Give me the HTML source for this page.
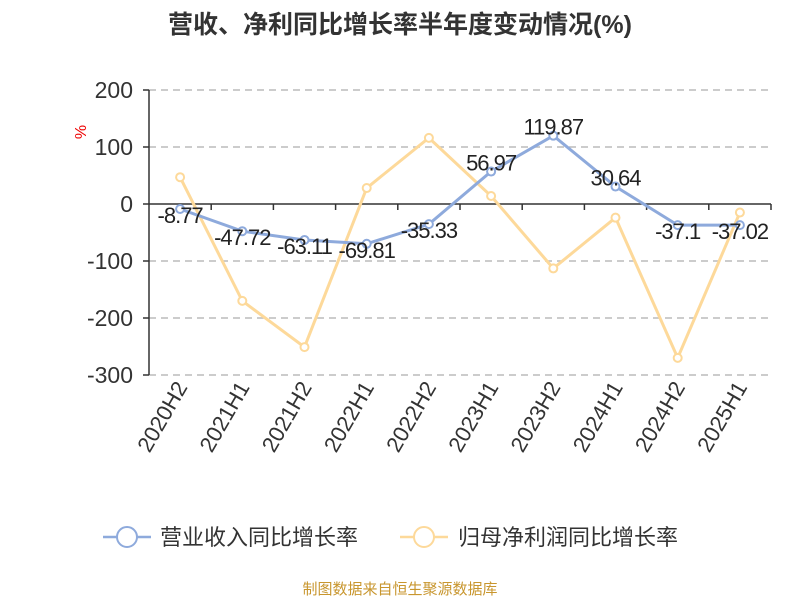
<!DOCTYPE html>
<html><head><meta charset="utf-8"><style>
body{margin:0;background:#fff;}
svg{display:block;font-family:"Liberation Sans","Noto Sans CJK SC",sans-serif;}
</style></head><body>
<svg id="c" width="800" height="600">
<text x="400" y="33" text-anchor="middle" font-size="25" font-weight="bold" fill="#333">营收、净利同比增长率半年度变动情况(%)</text>
<text x="86" y="132" font-size="16" fill="#e00" transform="rotate(-90 86 132)" text-anchor="middle">%</text>
<g id="grid"></g><g id="axes"></g><g id="series"></g>
<g>
<g>
<line x1="103" y1="537" x2="151" y2="537" stroke="#8eaadc" stroke-width="2.5"/>
<circle cx="127" cy="537" r="10" fill="#fff" stroke="#8eaadc" stroke-width="2"/>
<text x="160" y="545" font-size="22" fill="#333">营业收入同比增长率</text></g>
<g>
<line x1="400" y1="537" x2="448" y2="537" stroke="#fdd99a" stroke-width="2.5"/>
<circle cx="424" cy="537" r="10" fill="#fff" stroke="#fdd99a" stroke-width="2"/>
<text x="458" y="545" font-size="22" fill="#333">归母净利润同比增长率</text></g>
</g>
<text x="400" y="594" text-anchor="middle" font-size="15" fill="#c8962e">制图数据来自恒生聚源数据库</text>
</svg>
<script>
const categories=["2020H2","2021H1","2021H2","2022H1","2022H2","2023H1","2023H2","2024H1","2024H2","2025H1"];
const revenue=[-8.77,-47.72,-63.11,-69.81,-35.33,56.97,119.87,30.64,-37.1,-37.02];
const revenueLabels=["-8.77","-47.72","-63.11","-69.81","-35.33","56.97","119.87","30.64","-37.1","-37.02"];
const profit=[47,-170,-251,28,116,14,-113,-24,-270,-15];
const yTicks=[200,100,0,-100,-200,-300];
const NS="http://www.w3.org/2000/svg";
const x0=149,bw=62.2,yTop=90,yBot=375;
const X=i=>x0+bw*(i+0.5);
const Y=v=>yTop+(200-v)/500*(yBot-yTop);
function mk(t,a,p){const e=document.createElementNS(NS,t);for(const k in a)e.setAttribute(k,a[k]);p.appendChild(e);return e;}
const grid=document.getElementById('grid'),axes=document.getElementById('axes'),ser=document.getElementById('series');
yTicks.forEach(v=>{
 if(v!==0){const g=mk('line',{x1:x0,x2:771,y1:Y(v),y2:Y(v),stroke:'#bbb','stroke-dasharray':'7,5','stroke-width':1.5},grid);
 
 }
 const tk=mk('line',{x1:x0-6,x2:x0,y1:Y(v),y2:Y(v),stroke:'#333','stroke-width':1.5},axes);
 
 
 const t=mk('text',{x:x0-16,y:Y(v)+8,'text-anchor':'end','font-size':23,fill:'#333'},axes);t.textContent=v;
 
 
});
const ya=mk('line',{x1:x0,x2:x0,y1:yTop,y2:yBot,stroke:'#333','stroke-width':1.5},axes);


const xa=mk('line',{x1:x0,x2:771,y1:Y(0),y2:Y(0),stroke:'#333','stroke-width':1.5},axes);


categories.forEach((c,i)=>{
 const tk=mk('line',{x1:x0+bw*(i+1),x2:x0+bw*(i+1),y1:Y(0),y2:Y(0)+6,stroke:'#333','stroke-width':1.5},axes);
 
 
 const tx=X(i)+8,ty=387;
 const t=mk('text',{x:tx,y:ty,'text-anchor':'end','font-size':22,fill:'#333',transform:`rotate(-60 ${tx} ${ty})`},axes);t.textContent=c;
 
 
});
function line(data,color,name){
 const p=mk('polyline',{points:data.map((v,i)=>X(i)+','+Y(v)).join(' '),fill:'none',stroke:color,'stroke-width':3},ser);
 
 
 data.forEach((v,i)=>{const c=mk('circle',{cx:X(i),cy:Y(v),r:4,fill:'#fff',stroke:color,'stroke-width':2},ser);
 
 });
}
line(profit,'#fdd99a','profit');
line(revenue,'#8eaadc','revenue');
revenue.forEach((v,i)=>{const t=mk('text',{x:X(i),y:Y(v)+14,'text-anchor':'middle','font-size':22,fill:'#222','letter-spacing':'-1'},ser);t.textContent=revenueLabels[i];
 if(v>0)t.setAttribute('y',Y(v)-1);
 
 });
</script>
</body></html>
